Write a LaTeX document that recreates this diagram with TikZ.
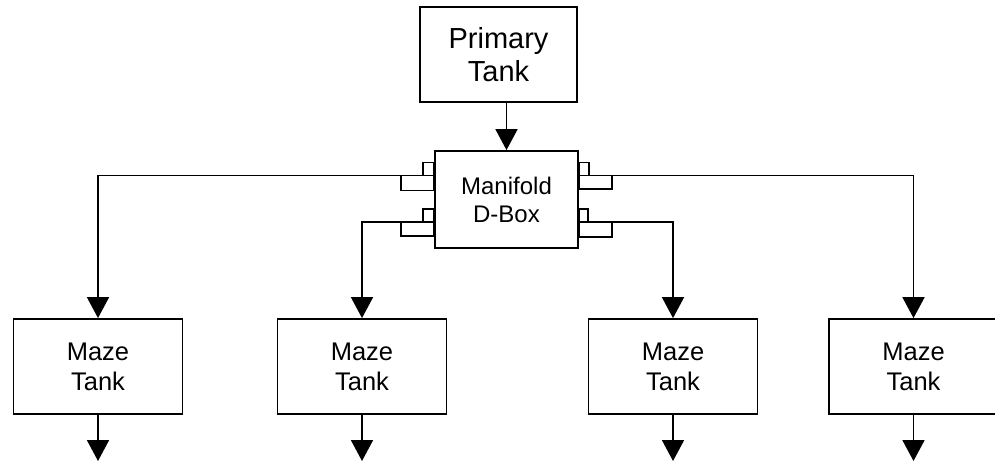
\documentclass[tikz,border=0pt]{standalone}
\usepackage{fontspec}
\setmainfont{Liberation Sans}
\usetikzlibrary{arrows.meta}
\begin{document}
\begin{tikzpicture}[x=1pt,y=-1pt,
  box/.style={draw, line width=1.8pt, fill=white, align=center, inner sep=0pt},
  tank/.style={box, minimum width=169pt, minimum height=95pt,
    font=\fontsize{25.5}{30}\selectfont},
  arr/.style={line width=1.8pt, -{Triangle[length=21pt,width=22pt]}},
  stub/.style={draw, line width=1.8pt}]
\useasboundingbox (0,0) rectangle (995,462);
\clip (0,0) rectangle (995,462);
\fill[white] (0,0) rectangle (995,462);

% levels of the distribution lines and of the outlet arrow tips
\coordinate (yU) at (0,175.5);
\coordinate (yL) at (0,222);
\coordinate (yOut) at (0,461);

% boxes
\node[box, minimum width=157pt, minimum height=95pt,
  font=\fontsize{29}{33}\selectfont] (primary) at (498.5,54.5) {Primary\\Tank};
\node[box, minimum width=143pt, minimum height=97pt,
  font=\fontsize{24}{28}\selectfont] (manifold) at (506.5,199.5) {Manifold\\D-Box};
\node[tank] (maze1) at (98,366.5) {Maze\\Tank};
\node[tank] (maze2) at (362,366.5) {Maze\\Tank};
\node[tank] (maze3) at (673,366.5) {Maze\\Tank};
\node[tank] (maze4) at (913.5,366.5) {Maze\\Tank};

% pipe fittings on the sides of the manifold
\draw[stub] (423,162.5) rectangle (manifold.west |- yU);
\draw[stub] (401,190.5) rectangle (manifold.west |- yU);
\draw[stub] (423,209) rectangle (manifold.west |- yL);
\draw[stub] (401,236) rectangle (manifold.west |- yL);
\draw[stub] (589,162.5) rectangle (manifold.east |- yU);
\draw[stub] (612,189) rectangle (manifold.east |- yU);
\draw[stub] (588,209) rectangle (manifold.east |- yL);
\draw[stub] (612,237) rectangle (manifold.east |- yL);

% connectors
\draw[arr] (primary.south -| manifold.north) -- (manifold.north);
\draw[arr] (manifold.west |- yU) -| (maze1.north);
\draw[arr] (manifold.west |- yL) -| (maze2.north);
\draw[arr] (manifold.east |- yL) -| (maze3.north);
\draw[arr] (manifold.east |- yU) -| (maze4.north);

% outlets
\draw[arr] (maze1.south) -- (maze1.south |- yOut);
\draw[arr] (maze2.south) -- (maze2.south |- yOut);
\draw[arr] (maze3.south) -- (maze3.south |- yOut);
\draw[arr] (maze4.south) -- (maze4.south |- yOut);
\end{tikzpicture}
\end{document}
